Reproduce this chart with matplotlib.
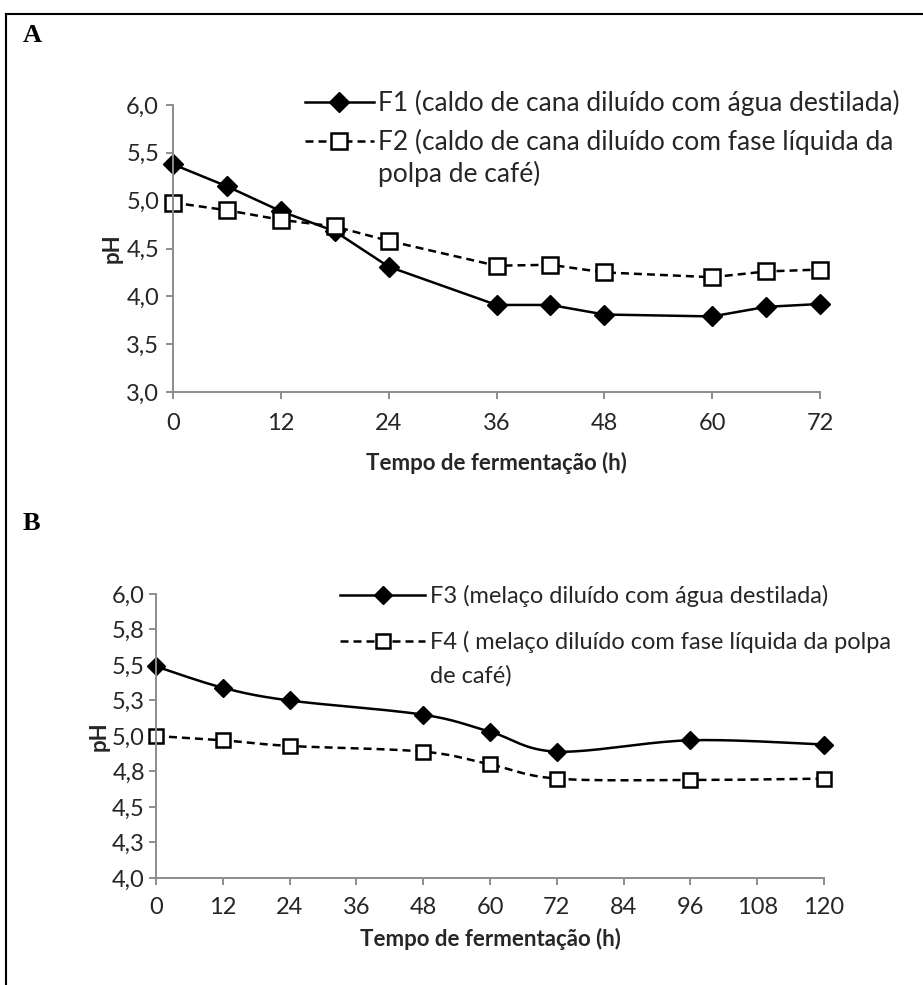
import numpy as np
import matplotlib.pyplot as plt
from matplotlib.lines import Line2D

plt.rcParams['font.family'] = ['Lato', 'DejaVu Sans']

# Painel A - caldo de cana
hours_a = [0, 6, 12, 18, 24, 36, 42, 48, 60, 66, 72]
ph_f1 = [5.38, 5.15, 4.89, 4.68, 4.31, 3.91, 3.91, 3.81, 3.79, 3.89, 3.92]
ph_f2 = [4.98, 4.90, 4.80, 4.73, 4.58, 4.32, 4.33, 4.25, 4.20, 4.26, 4.28]
xticks_a = [0, 12, 24, 36, 48, 60, 72]
yticks_a = [3.0, 3.5, 4.0, 4.5, 5.0, 5.5, 6.0]
ylabels_a = ['3,0', '3,5', '4,0', '4,5', '5,0', '5,5', '6,0']
label_f1 = 'F1 (caldo de cana diluído com água destilada)'
label_f2 = 'F2 (caldo de cana diluído com fase líquida da'
label_f2_cont = 'polpa de café)'

# Painel B - melaco
hours_b = [0, 12, 24, 48, 60, 72, 96, 120]
ph_f3 = [5.49, 5.34, 5.25, 5.15, 5.03, 4.89, 4.97, 4.94]
ph_f4 = [5.00, 4.97, 4.93, 4.89, 4.80, 4.70, 4.69, 4.70]
xticks_b = [0, 12, 24, 36, 48, 60, 72, 84, 96, 108, 120]
yticks_b = [4.0, 4.25, 4.5, 4.75, 5.0, 5.25, 5.5, 5.75, 6.0]
ylabels_b = ['4,0', '4,3', '4,5', '4,8', '5,0', '5,3', '5,5', '5,8', '6,0']
label_f3 = 'F3 (melaço diluído com água destilada)'
label_f4 = 'F4 ( melaço diluído com fase líquida da polpa'
label_f4_cont = 'de café)'

W, H = 923, 985
AXIS_GRAY = '#8c8c8c'
TXT = '#262626'
FS_TICK = 17
FS_LEG_A = 19
FS_LEG_B = 17
FS_TITLE = 16


def smooth(x, y, n=20):
    # curva suavizada estilo Excel (bezier cubica entre pontos)
    pts = np.column_stack([np.asarray(x, float), np.asarray(y, float)])
    out = []
    t = np.linspace(0, 1, n, endpoint=False)[:, None]
    for i in range(len(pts) - 1):
        p0, p3 = pts[i], pts[i + 1]
        pm = pts[max(i - 1, 0)]
        pn = pts[min(i + 2, len(pts) - 1)]
        c1 = p0 + (p3 - pm) / 6
        c2 = p3 - (pn - p0) / 6
        seg = (1 - t) ** 3 * p0 + 3 * (1 - t) ** 2 * t * c1 + 3 * (1 - t) * t ** 2 * c2 + t ** 3 * p3
        out.append(seg)
    out.append(pts[-1:])
    out = np.vstack(out)
    return out[:, 0], out[:, 1]


def style_axes(ax, xticks, yticks, ylabels, xpad, ypad):
    for s in ['top', 'right']:
        ax.spines[s].set_visible(False)
    for s in ['left', 'bottom']:
        ax.spines[s].set_color(AXIS_GRAY)
        ax.spines[s].set_linewidth(1.4)
    ax.set_xticks(xticks)
    ax.set_yticks(yticks)
    ax.set_yticklabels(ylabels)
    ax.tick_params(axis='both', colors=AXIS_GRAY, labelcolor=TXT, labelsize=FS_TICK,
                   length=5, width=1.4, direction='out')
    ax.tick_params(axis='x', pad=xpad)
    ax.tick_params(axis='y', pad=ypad)
    ax.set_facecolor('none')


fig = plt.figure(figsize=(W / 100, H / 100), dpi=100)

# moldura
fig.add_artist(Line2D([6 / W, 6 / W], [0, 1 - 14 / H], transform=fig.transFigure, color='black', lw=1.5))
fig.add_artist(Line2D([6 / W, 1], [1 - 14 / H, 1 - 14 / H], transform=fig.transFigure, color='black', lw=1.5))

fig.text(23 / W, 1 - 36 / H, 'A', family='Liberation Serif', fontweight='bold', fontsize=19, va='center')
fig.text(23 / W, 1 - 523 / H, 'B', family='Liberation Serif', fontweight='bold', fontsize=19, va='center')

# ---- A ----
axA = fig.add_axes([173 / W, 1 - 392 / H, 647 / W, 287 / H])
axA.plot(hours_a, ph_f1, color='black', lw=1.8, marker='D', ms=10, mfc='black', mec='black',
         label=label_f1, clip_on=False)
axA.plot(hours_a, ph_f2, color='black', lw=1.8, ls=(0, (3.2, 2)), marker='s', ms=11, mfc='white',
         mec='black', mew=1.8, label=label_f2, clip_on=False)
axA.set_xlim(0, 72)
axA.set_ylim(3.0, 6.0)
style_axes(axA, xticks_a, yticks_a, ylabels_a, xpad=10, ypad=5)
axA.set_xlabel('Tempo de fermentação (h)', fontsize=FS_TITLE, fontweight='bold', color=TXT)
axA.xaxis.set_label_coords(0.5, -71 / 287)
axA.xaxis.label.set_va('center')
axA.set_ylabel('pH', fontsize=FS_TITLE, fontweight='bold', color=TXT)
axA.yaxis.set_label_coords(-61 / 647, 0.5)
axA.yaxis.label.set_va('center')
legA = axA.legend(loc='upper left', bbox_to_anchor=(305 / W, 1 - 90 / H), bbox_transform=fig.transFigure,
                  frameon=False, fontsize=FS_LEG_A, handlelength=2.6, handletextpad=0.15, borderpad=0,
                  borderaxespad=0, labelspacing=0.5, labelcolor=TXT)

# ---- B ----
axB = fig.add_axes([156 / W, 1 - 878 / H, 668 / W, 284 / H])
sx, sy = smooth(hours_b, ph_f3)
axB.plot(sx, sy, color='black', lw=1.8, marker='D', ms=9, mfc='black', mec='black',
         markevery=list(range(0, len(sx), 20)), label=label_f3, clip_on=False)
sx, sy = smooth(hours_b, ph_f4)
axB.plot(sx, sy, color='black', lw=1.8, ls=(0, (3.2, 2)), marker='s', ms=10.5, mfc='white', mec='black',
         mew=1.8, markevery=list(range(0, len(sx), 20)), label=label_f4, clip_on=False)
axB.set_xlim(0, 120)
axB.set_ylim(4.0, 6.0)
style_axes(axB, xticks_b, yticks_b, ylabels_b, xpad=9, ypad=3)
axB.set_xlabel('Tempo de fermentação (h)', fontsize=FS_TITLE, fontweight='bold', color=TXT)
axB.xaxis.set_label_coords(0.5, -61 / 284)
axB.xaxis.label.set_va('center')
axB.set_ylabel('pH', fontsize=FS_TITLE, fontweight='bold', color=TXT)
axB.yaxis.set_label_coords(-57 / 668, 0.5)
axB.yaxis.label.set_va('center')
legB = axB.legend(loc='upper left', bbox_to_anchor=(340 / W, 1 - 585 / H), bbox_transform=fig.transFigure,
                  frameon=False, fontsize=FS_LEG_B, handlelength=3.6, handletextpad=0.2, borderpad=0,
                  borderaxespad=0, labelspacing=1.0, labelcolor=TXT)

# segunda linha das legendas F2 e F4, alinhada ao texto da entrada
fig.canvas.draw()
renderer = fig.canvas.get_renderer()
for leg, cont, fs, gap in [(legA, label_f2_cont, FS_LEG_A, 32), (legB, label_f4_cont, FS_LEG_B, 34)]:
    bb = leg.get_texts()[1].get_window_extent(renderer)
    fig.text(bb.x0 / W, ((bb.y0 + bb.y1) / 2 - gap) / H, cont, fontsize=fs, color=TXT, va='center')

fig.savefig('out.png', dpi=100, facecolor='white')
